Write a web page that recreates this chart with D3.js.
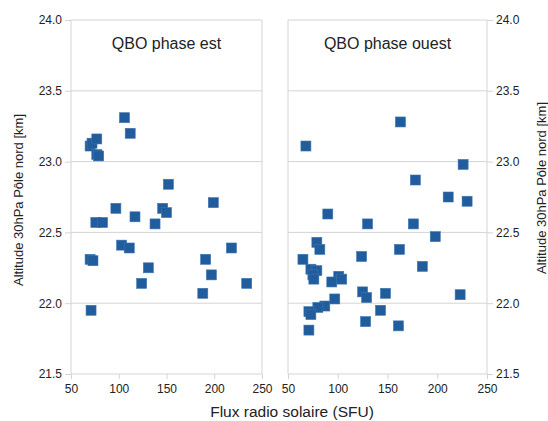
<!DOCTYPE html>
<html>
<head>
<meta charset="utf-8">
<script src="https://cdn.jsdelivr.net/npm/d3@7"></script>
<style>
  body { margin: 0; background: #fff; }
  text { font-family: "Liberation Sans", Arial, sans-serif; fill: #222; }
</style>
</head>
<body>
<div id="chart"></div>
<script>
// QBO phase est
const estFlux = [106, 112, 70, 72, 77, 77, 79, 152, 97, 117, 146, 150, 199, 76, 83, 138,
                 103, 111, 70, 73, 131, 124, 191, 218, 197, 234, 188, 71];
const estAlt = [23.31, 23.20, 23.11, 23.13, 23.16, 23.05, 23.04, 22.84, 22.67, 22.61, 22.67, 22.64, 22.71, 22.57, 22.57, 22.56,
                22.41, 22.39, 22.31, 22.30, 22.25, 22.14, 22.31, 22.39, 22.20, 22.14, 22.07, 21.95];

// QBO phase ouest
const ouestFlux = [163, 68, 226, 178, 211, 230, 90, 130, 176, 198, 79, 82, 65, 162, 124, 185, 73, 79, 75, 76,
                   101, 104, 94, 125, 129, 148, 223, 97, 87, 80, 71, 73, 143, 128, 161, 71];
const ouestAlt = [23.28, 23.11, 22.98, 22.87, 22.75, 22.72, 22.63, 22.56, 22.56, 22.47, 22.43, 22.38, 22.31, 22.38, 22.33, 22.26, 22.24, 22.23, 22.20, 22.17,
                  22.19, 22.17, 22.15, 22.08, 22.04, 22.07, 22.06, 22.03, 21.98, 21.97, 21.94, 21.92, 21.95, 21.87, 21.84, 21.81];

const xTicks = [50, 100, 150, 200, 250];
const yTicks = [21.5, 22.0, 22.5, 23.0, 23.5, 24.0];

const width = 548, height = 421;
const plotTop = 20, plotBottom = 374;
const gridColor = "#d4d4d4";
const markColor = "#215c9c";

const svg = d3.select("#chart").append("svg")
    .attr("width", width)
    .attr("height", height);

const yScale = d3.scaleLinear().domain([21.5, 24]).range([plotBottom, plotTop]);

function drawPanel(left, right, flux, alt, title, side) {
    const xScale = d3.scaleLinear().domain([50, 250]).range([left, right]);
    const g = svg.append("g");

    // horizontal gridlines
    g.selectAll(".grid")
        .data(yTicks)
        .enter().append("line")
        .attr("x1", left).attr("x2", right)
        .attr("y1", d => yScale(d)).attr("y2", d => yScale(d))
        .attr("stroke", gridColor);

    // frame sides
    g.append("line").attr("x1", left).attr("x2", left).attr("y1", plotTop).attr("y2", plotBottom).attr("stroke", gridColor);
    g.append("line").attr("x1", right).attr("x2", right).attr("y1", plotTop).attr("y2", plotBottom).attr("stroke", gridColor);

    // x axis
    const xAxis = g.append("g")
        .attr("transform", `translate(0,${plotBottom})`)
        .call(d3.axisBottom(xScale).tickValues(xTicks).tickSize(5).tickPadding(5));
    xAxis.select(".domain").remove();
    xAxis.selectAll("line").attr("stroke", gridColor);
    xAxis.selectAll("text").attr("font-size", 12).attr("fill", "#222")
        .style("font-family", "'Liberation Sans', Arial, sans-serif");

    // y axis
    const yAxis = side === "left"
        ? d3.axisLeft(yScale).tickValues(yTicks).tickFormat(d3.format(".1f")).tickSize(6).tickPadding(3)
        : d3.axisRight(yScale).tickValues(yTicks).tickFormat(d3.format(".1f")).tickSize(6).tickPadding(3);
    const yg = g.append("g")
        .attr("transform", `translate(${side === "left" ? left : right},0)`)
        .call(yAxis);
    yg.select(".domain").remove();
    yg.selectAll("line").attr("stroke", gridColor);
    yg.selectAll("text").attr("font-size", 12).attr("fill", "#222")
        .style("font-family", "'Liberation Sans', Arial, sans-serif");

    // panel title
    g.append("text")
        .attr("x", (left + right) / 2)
        .attr("y", 49)
        .attr("text-anchor", "middle")
        .attr("font-size", 16)
        .text(title);

    // points
    const s = 10;
    g.selectAll(".pt")
        .data(flux.map((f, i) => ({ f: f, a: alt[i] })))
        .enter().append("rect")
        .attr("x", d => xScale(d.f) - s / 2)
        .attr("y", d => yScale(d.a) - s / 2)
        .attr("width", s)
        .attr("height", s)
        .attr("fill", markColor)
        .attr("stroke", "#3d74b0")
        .attr("stroke-width", 0.6);
}

drawPanel(71, 262, estFlux, estAlt, "QBO phase est", "left");
drawPanel(288, 487, ouestFlux, ouestAlt, "QBO phase ouest", "right");

// axis titles
svg.append("text")
    .attr("x", 292)
    .attr("y", 417)
    .attr("text-anchor", "middle")
    .attr("font-size", 15.5)
    .text("Flux radio solaire (SFU)");

svg.append("text")
    .attr("transform", "translate(23,200) rotate(-90)")
    .attr("text-anchor", "middle")
    .attr("font-size", 13)
    .text("Altitude 30hPa Pôle nord [km]");

svg.append("text")
    .attr("transform", "translate(546,188) rotate(-90)")
    .attr("text-anchor", "middle")
    .attr("font-size", 13)
    .text("Altitude 30hPa Pôle nord [km]");
</script>
</body>
</html>
